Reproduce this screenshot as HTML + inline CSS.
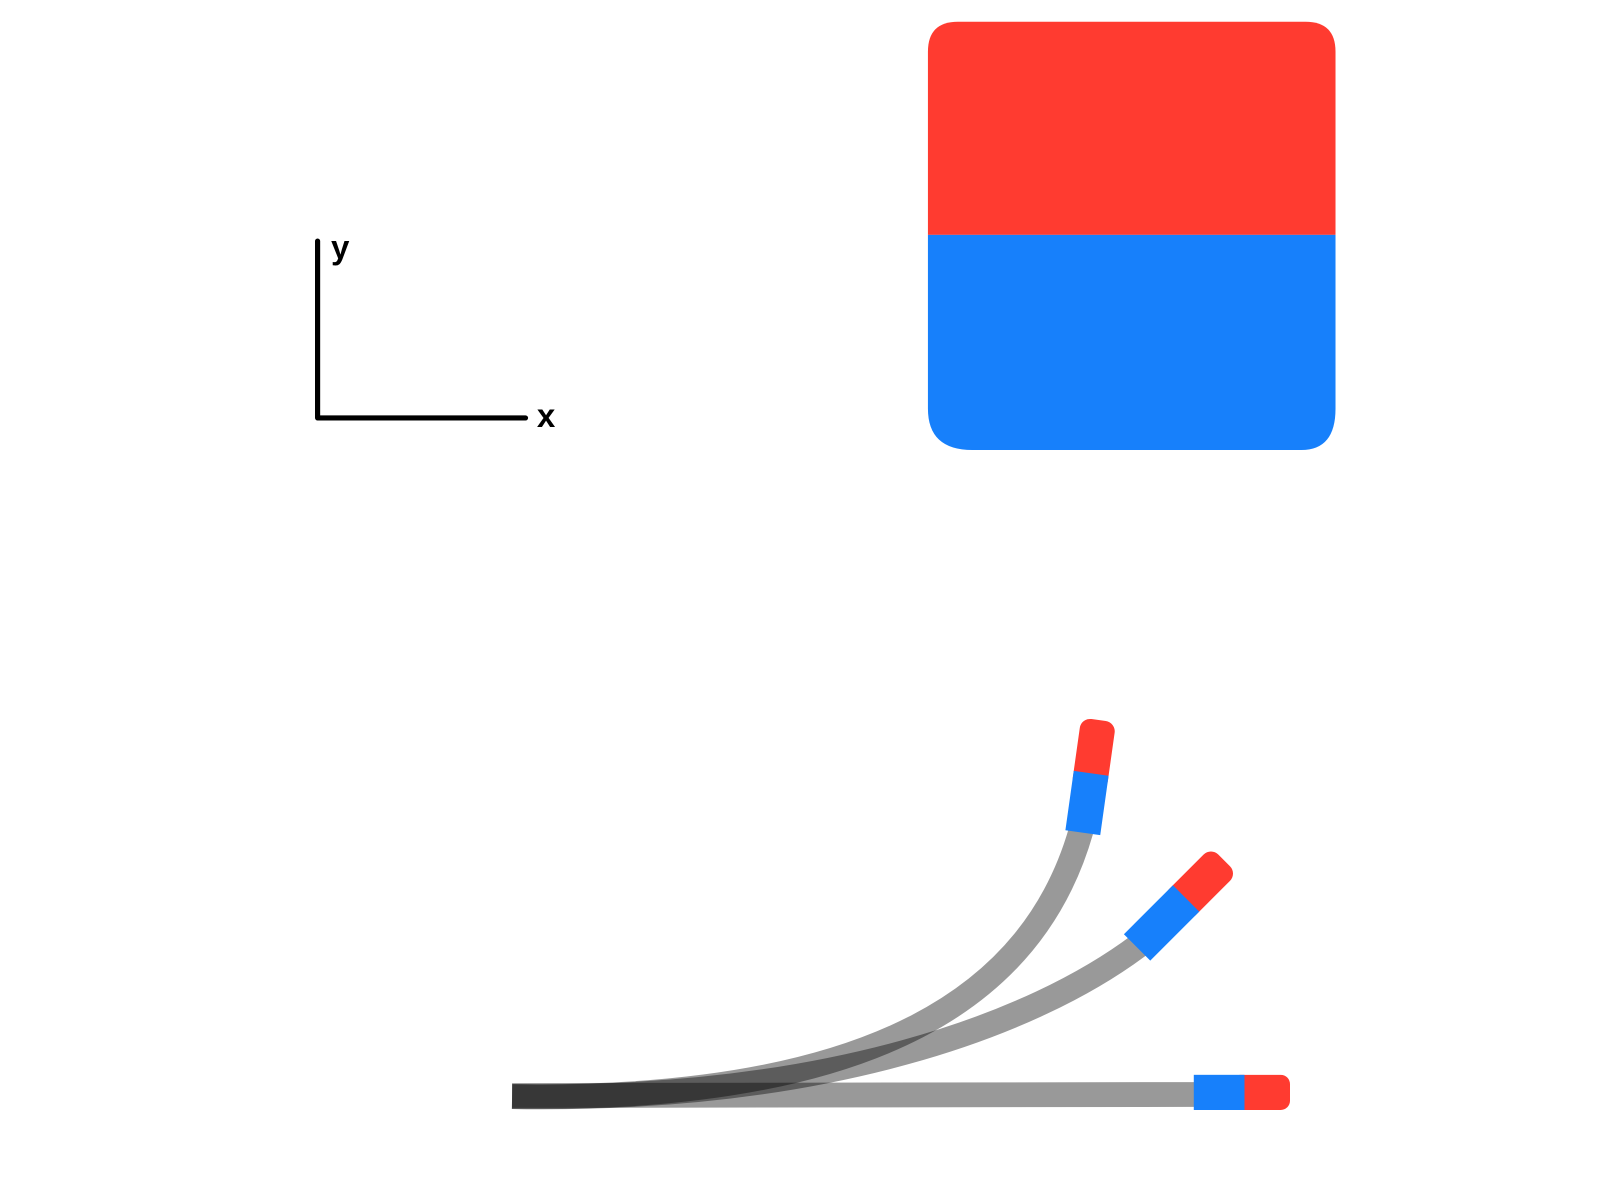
<!DOCTYPE html>
<html>
<head>
<meta charset="utf-8">
<style>
html,body{margin:0;padding:0;background:#fff;}
svg{display:block;}
text{font-family:"Liberation Sans",sans-serif;}
</style>
</head>
<body>
<svg width="1620" height="1200" viewBox="0 0 1566 1160">
  <g>
    <path d="M307,233 L307,404 L508,404" fill="none" stroke="#000" stroke-width="5" stroke-linecap="round" stroke-linejoin="round"/>
    <text x="320" y="250" font-size="32" font-weight="bold">y</text>
    <text x="519" y="413" font-size="32" font-weight="bold">x</text>
  </g>
  <g>
    <path d="M897,227 L897,50 Q897,21 926,21 L1262,21 Q1291,21 1291,50 L1291,227 Z" fill="#ff3b30"/>
    <path d="M897,227 L1291,227 L1291,395 Q1291,435 1258,435 L940,435 Q897,435 897,395 Z" fill="#1780fb"/>
  </g>
  <g fill="none" stroke="rgba(0,0,0,0.4)" stroke-width="24">
    <path d="M495,1059 L1156,1058"/>
    <path d="M495,1060 C800,1065 1000,990 1102,913"/>
    <path d="M495,1060 C850,1065 1000,960 1045,803"/>
  </g>
  <g transform="translate(1154,1056)">
    <rect x="36" y="-17" width="57" height="34" rx="9" fill="#ff3b30"/>
    <rect x="0" y="-17" width="49" height="34" fill="#1780fb"/>
  </g>
  <g transform="translate(1102,913) rotate(-45)">
    <rect x="48" y="-18" width="67" height="36" rx="10" fill="#ff3b30"/>
    <rect x="-4" y="-18" width="67" height="36" fill="#1780fb"/>
  </g>
  <g transform="translate(1047,803) rotate(-82)">
    <rect x="40" y="-17" width="68" height="34" rx="10" fill="#ff3b30"/>
    <rect x="-2" y="-17" width="58" height="34" fill="#1780fb"/>
  </g>
</svg>
</body>
</html>
